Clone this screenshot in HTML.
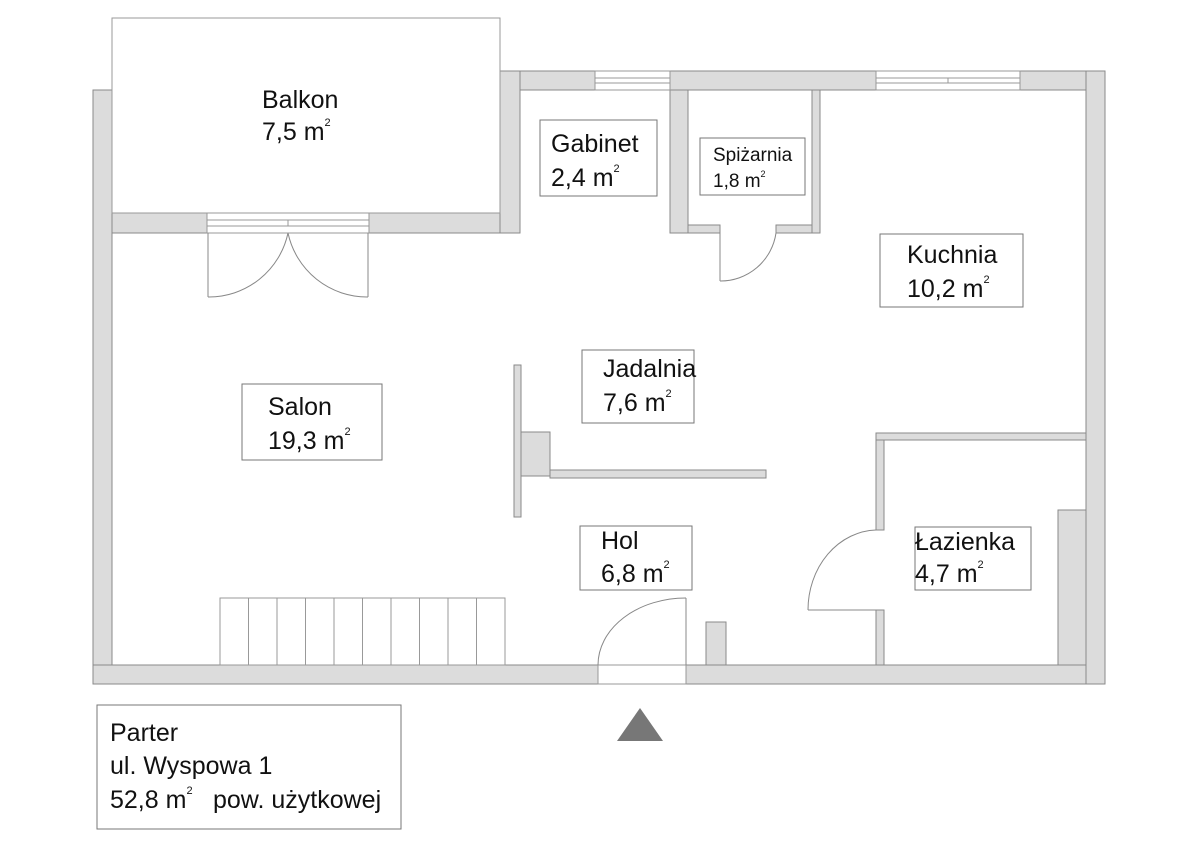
<!DOCTYPE html>
<html><head><meta charset="utf-8"><style>
html,body{margin:0;padding:0;background:#fff;}
svg{display:block;}
text{font-family:"Liberation Sans",sans-serif;fill:#111;}
</style></head><body>
<svg width="1200" height="849" viewBox="0 0 1200 849" xmlns="http://www.w3.org/2000/svg">
<rect width="1200" height="849" fill="#fff"/>
<g fill="#dcdcdc" stroke="#8a8a8a" stroke-width="1">
<rect x="93" y="90" width="19" height="594"/>
<rect x="93" y="665" width="505" height="19"/>
<rect x="686" y="665" width="419" height="19"/>
<rect x="1086" y="71" width="19" height="613"/>
<rect x="112" y="213" width="95" height="20"/>
<rect x="369" y="213" width="151" height="20"/>
<rect x="500" y="71" width="20" height="162"/>
<rect x="520" y="71" width="75" height="19"/>
<rect x="670" y="71" width="206" height="19"/>
<rect x="1020" y="71" width="66" height="19"/>
<rect x="670" y="90" width="18" height="143"/>
<rect x="812" y="90" width="8" height="143"/>
<rect x="688" y="225" width="32" height="8"/>
<rect x="776" y="225" width="36" height="8"/>
<rect x="514" y="365" width="7" height="152"/>
<rect x="521" y="432" width="29" height="44"/>
<rect x="550" y="470" width="216" height="8"/>
<rect x="706" y="622" width="20" height="43"/>
<rect x="876" y="433" width="210" height="7"/>
<rect x="876" y="440" width="8" height="90"/>
<rect x="876" y="610" width="8" height="55"/>
<rect x="1058" y="510" width="28" height="155"/>
</g>
<g stroke="#999" stroke-width="1" fill="none">
<rect x="595" y="71" width="75" height="19"/>
<line x1="595" y1="78" x2="670" y2="78"/><line x1="595" y1="83" x2="670" y2="83"/>
<rect x="876" y="71" width="144" height="19"/>
<line x1="876" y1="78" x2="1020" y2="78"/><line x1="876" y1="83" x2="1020" y2="83"/>
<line x1="948" y1="78" x2="948" y2="83"/>
<rect x="207" y="213" width="162" height="20"/>
<line x1="207" y1="220" x2="369" y2="220"/><line x1="207" y1="226" x2="369" y2="226"/>
<line x1="288" y1="220" x2="288" y2="226"/>
<rect x="598" y="665" width="88" height="19"/>
</g>
<rect x="112" y="18" width="388" height="195" fill="none" stroke="#999" stroke-width="1"/>
<g stroke="#888" stroke-width="1" fill="none">
<line x1="208" y1="233" x2="208" y2="297"/>
<path d="M208 297 A81 81 0 0 0 288 233"/>
<line x1="368" y1="233" x2="368" y2="297"/>
<path d="M368 297 A81 81 0 0 1 288 233"/>
<line x1="720" y1="233" x2="720" y2="281"/>
<path d="M720 281 A56 56 0 0 0 776 233"/>
<line x1="686" y1="598" x2="686" y2="665"/>
<path d="M686 598 A88 67 0 0 0 598 665"/>
<line x1="876" y1="610" x2="808" y2="610"/>
<path d="M808 610 A70 80 0 0 1 876 530"/>
</g>
<g stroke="#999" stroke-width="1" fill="none">
<rect x="220" y="598" width="285" height="67"/>
<line x1="248.5" y1="598" x2="248.5" y2="665"/><line x1="277" y1="598" x2="277" y2="665"/>
<line x1="305.5" y1="598" x2="305.5" y2="665"/><line x1="334" y1="598" x2="334" y2="665"/>
<line x1="362.5" y1="598" x2="362.5" y2="665"/><line x1="391" y1="598" x2="391" y2="665"/>
<line x1="419.5" y1="598" x2="419.5" y2="665"/><line x1="448" y1="598" x2="448" y2="665"/>
<line x1="476.5" y1="598" x2="476.5" y2="665"/>
</g>
<g fill="#fff" stroke="#777" stroke-width="1">
<rect x="540" y="120" width="117" height="76"/>
<rect x="700" y="138" width="105" height="57"/>
<rect x="880" y="234" width="143" height="73"/>
<rect x="582" y="350" width="112" height="73"/>
<rect x="242" y="384" width="140" height="76"/>
<rect x="580" y="526" width="112" height="64"/>
<rect x="915" y="527" width="116" height="63"/>
<rect x="97" y="705" width="304" height="124"/>
</g>
<polygon points="640,708 617,741 663,741" fill="#777"/>
<g font-size="25">
<text x="262" y="108">Balkon</text>
<text x="262" y="140">7,5 m<tspan font-size="11" dy="-14">2</tspan></text>
<text x="551" y="152">Gabinet</text>
<text x="551" y="186">2,4 m<tspan font-size="11" dy="-14">2</tspan></text>
<text x="907" y="263">Kuchnia</text>
<text x="907" y="297">10,2 m<tspan font-size="11" dy="-14">2</tspan></text>
<text x="603" y="377">Jadalnia</text>
<text x="603" y="411">7,6 m<tspan font-size="11" dy="-14">2</tspan></text>
<text x="268" y="415">Salon</text>
<text x="268" y="449">19,3 m<tspan font-size="11" dy="-14">2</tspan></text>
<text x="601" y="549">Hol</text>
<text x="601" y="582">6,8 m<tspan font-size="11" dy="-14">2</tspan></text>
<text x="915" y="550">Łazienka</text>
<text x="915" y="582">4,7 m<tspan font-size="11" dy="-14">2</tspan></text>
<text x="110" y="741">Parter</text>
<text x="110" y="774">ul. Wyspowa 1</text>
<text x="110" y="808">52,8 m<tspan font-size="11" dy="-14">2</tspan></text>
<text x="213" y="808">pow. użytkowej</text>
</g>
<g font-size="19">
<text x="713" y="161">Spiżarnia</text>
<text x="713" y="187">1,8 m<tspan font-size="9" dy="-10">2</tspan></text>
</g>
</svg>
</body></html>
